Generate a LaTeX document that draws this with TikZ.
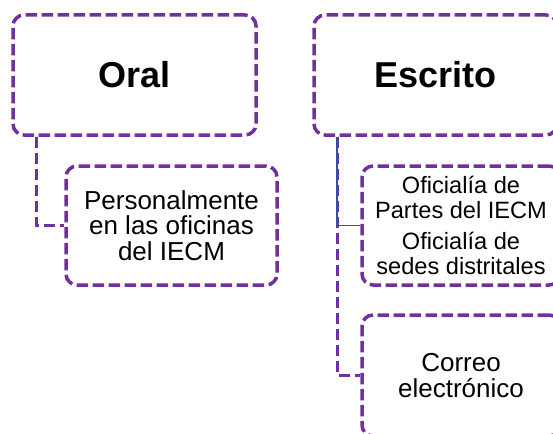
\documentclass[tikz,border=0pt]{standalone}
\usepackage{fontspec}
\setmainfont{Liberation Sans}
\definecolor{smpurple}{RGB}{112,48,160}
\definecolor{smblue}{RGB}{47,85,151}
\tikzset{
  dashline/.style={draw=smpurple, line width=3.5pt, dash pattern=on 11.5pt off 4.5pt},
  topbox/.style={dashline, rectangle, rounded corners=11pt, inner sep=0pt, align=center,
    font=\fontsize{36}{40}\selectfont\bfseries},
  subbox/.style={dashline, rectangle, rounded corners=11pt, inner sep=0pt, align=center},
  link/.style={dashline, rounded corners=0pt},
  bluelink/.style={draw=smblue, line width=1.6pt}
}
\begin{document}
\begin{tikzpicture}[x=1pt, y=-1pt]
  \useasboundingbox (0,0) rectangle (553,433);
  \clip (0,0) rectangle (553,433);
  % top-level boxes
  \node[topbox, minimum width=243pt, minimum height=120pt] (oral) at (134.5,75) {Oral};
  \node[topbox, minimum width=243pt, minimum height=120pt] (escrito) at (435.5,75) {Escrito};
  % child boxes
  \node[subbox, minimum width=211pt, minimum height=119pt,
        font=\fontsize{26}{25.5}\selectfont] (pers) at (171.5,225.5)
        {Personalmente\\en las oficinas\\del IECM};
  \node[subbox, minimum width=198pt, minimum height=119pt,
        font=\fontsize{23.6}{24.3}\selectfont] (ofic) at (461,225.5)
        {Oficialía de\\Partes del IECM\\[7.4pt]Oficialía de\\sedes distritales};
  \node[subbox, minimum width=198pt, minimum height=121pt,
        font=\fontsize{26}{26.7}\selectfont] (correo) at (461,375.5)
        {Correo\\electrónico};
  % connectors
  \draw[link] ([xshift=25pt]oral.south west) |- (pers.west);
  \draw[link] ([xshift=25pt]escrito.south west) |- (correo.west);
  \draw[bluelink] ([xshift=25pt]escrito.south west) |- (ofic.west);
\end{tikzpicture}
\end{document}
